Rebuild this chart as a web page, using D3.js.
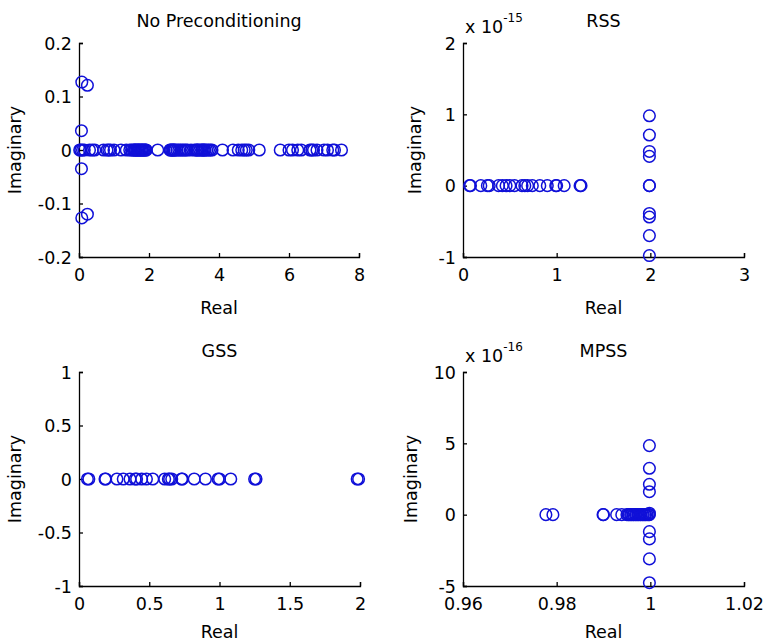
<!DOCTYPE html>
<html><head><meta charset="utf-8">
<script src="https://cdn.jsdelivr.net/npm/d3@7"></script>
<style>
html,body{margin:0;padding:0;background:#fff;}
svg text{font-family:"DejaVu Sans",sans-serif;fill:#000;}
</style></head>
<body><svg id="c" width="764" height="643"></svg>
<script>
// ---- Data ----
const titles = ["No Preconditioning", "RSS", "GSS", "MPSS"];

// No Preconditioning: eigenvalues (real, imaginary)
const noPrecRe = [0.08, 0.24, 0.08, 0.24, 0.07, 0.07,
  0.02, 0.05, 0.1, 0.15, 0.3, 0.38, 0.45, 0.7, 0.8, 0.85, 0.9, 1.0, 1.2, 1.35, 1.45, 1.5, 1.55,
  1.58, 1.6, 1.62, 1.65, 1.68, 1.7, 1.72, 1.75, 1.78, 1.8, 1.82, 1.85, 1.88, 1.9, 1.92,
  2.25, 2.6, 2.62, 2.65, 2.68, 2.7, 2.72, 2.75, 2.8, 2.85, 2.9, 2.95, 3.0, 3.05, 3.1, 3.2,
  3.3, 3.35, 3.38, 3.4, 3.45, 3.5, 3.52, 3.55, 3.58, 3.6, 3.65, 3.7, 3.75, 3.8,
  4.1, 4.4, 4.55, 4.65, 4.72, 4.78, 4.85, 5.15, 5.75, 6.0, 6.1, 6.25,
  6.35, 6.6, 6.65, 6.7, 6.8, 7.0, 7.1, 7.25, 7.3, 7.5];
const noPrecIm = [0.127, 0.121, -0.127, -0.120, 0.036, -0.035,
  0, 0, 0, 0, 0, 0, 0, 0, 0, 0, 0, 0, 0, 0, 0, 0, 0,
  0, 0, 0, 0, 0, 0, 0, 0, 0, 0, 0, 0, 0, 0, 0,
  0, 0, 0, 0, 0, 0, 0, 0, 0, 0, 0, 0, 0, 0, 0, 0,
  0, 0, 0, 0, 0, 0, 0, 0, 0, 0, 0, 0, 0, 0,
  0, 0, 0, 0, 0, 0, 0, 0, 0, 0, 0, 0,
  0, 0, 0, 0, 0, 0, 0, 0, 0, 0];

// RSS
const rssRe = [0.07, 0.08, 0.19, 0.26, 0.28, 0.38, 0.42, 0.46, 0.5, 0.55, 0.63, 0.66, 0.69,
  0.74, 0.82, 0.9, 0.99, 1.0, 1.08, 1.25, 1.26,
  1.99, 1.99, 1.99, 1.99, 1.99, 1.99, 1.99, 1.99, 1.99, 1.99];
const rssIm = [0, 0, 0, 0, 0, 0, 0, 0, 0, 0, 0, 0, 0,
  0, 0, 0, 0, 0, 0, 0, 0,
  0.98e-15, 0.71e-15, 0.48e-15, 0.41e-15, 0, -0.39e-15, -0.44e-15, -0.70e-15, -0.98e-15, 0];

// GSS
const gssRe = [0.06, 0.07, 0.185, 0.19, 0.27, 0.315, 0.363, 0.4, 0.41, 0.446, 0.48, 0.525,
  0.61, 0.636, 0.645, 0.66, 0.73, 0.735, 0.82, 0.9, 0.99, 1.0, 1.08, 1.25, 1.26, 1.98, 1.99];
const gssIm = [0, 0, 0, 0, 0, 0, 0, 0, 0, 0, 0, 0,
  0, 0, 0, 0, 0, 0, 0, 0, 0, 0, 0, 0, 0, 0, 0];

// MPSS
const mpssRe = [0.9777, 0.9792, 0.9899, 0.9900, 0.9928, 0.9939, 0.9950, 0.9953, 0.9955, 0.9958,
  0.9960, 0.9963, 0.9965, 0.9968, 0.9970, 0.9973, 0.9975, 0.9978, 0.9980, 0.9983, 0.9985,
  0.9988, 0.9990, 0.9993, 0.9996, 0.9998,
  0.9998, 0.9998, 0.9998, 0.9998, 0.9998, 0.9998, 0.9998, 0.9998, 0.9998];
const mpssIm = [0, 0, 0, 0, 0, 0, 0, 0, 0, 0,
  0, 0, 0, 0, 0, 0, 0, 0, 0, 0, 0,
  0, 0, 0, 0, 0,
  4.84e-16, 3.25e-16, 2.13e-16, 1.61e-16, -1.19e-16, -1.70e-16, -3.10e-16, -4.77e-16, 0.1e-16];

// Axis domains and tick labels
const xDomains = [[0, 8], [0, 3], [0, 2], [0.96, 1.02]];
const yDomains = [[-0.2, 0.2], [-1e-15, 2e-15], [-1, 1], [-5e-16, 10e-16]];
const xTicks = [[0, 2, 4, 6, 8], [0, 1, 2, 3], [0, 0.5, 1, 1.5, 2], [0.96, 0.98, 1, 1.02]];
const xTickLabels = [["0", "2", "4", "6", "8"], ["0", "1", "2", "3"], ["0", "0.5", "1", "1.5", "2"], ["0.96", "0.98", "1", "1.02"]];
const yTicks = [[-0.2, -0.1, 0, 0.1, 0.2], [-1e-15, 0, 1e-15, 2e-15], [-1, -0.5, 0, 0.5, 1], [-5e-16, 0, 5e-16, 10e-16]];
const yTickLabels = [["-0.2", "-0.1", "0", "0.1", "0.2"], ["-1", "0", "1", "2"], ["-1", "-0.5", "0", "0.5", "1"], ["-5", "0", "5", "10"]];
const exponents = [null, "-15", null, "-16"];
const xLabel = "Real", yLabel = "Imaginary";

const seriesRe = [noPrecRe, rssRe, gssRe, mpssRe];
const seriesIm = [noPrecIm, rssIm, gssIm, mpssIm];

// ---- Layout ----
const boxes = [
  {x0: 79, x1: 359, y0: 43, y1: 257, ylx: 21, xlb: 314, tb: 27},
  {x0: 463, x1: 744, y0: 43, y1: 257, ylx: 421, xlb: 314, tb: 27},
  {x0: 79, x1: 360, y0: 372, y1: 586, ylx: 21, xlb: 638, tb: 357},
  {x0: 463, x1: 744, y0: 372, y1: 586, ylx: 417, xlb: 638, tb: 357}
];

const svg = d3.select("#c");
const FS = 17.5;
const blue = "#1010d8";

boxes.forEach((b, i) => {
  const x = d3.scaleLinear().domain(xDomains[i]).range([b.x0, b.x1]);
  const y = d3.scaleLinear().domain(yDomains[i]).range([b.y1, b.y0]);
  const g = svg.append("g");

  const xa = d3.axisBottom(x).tickValues(xTicks[i]).tickSize(-4)
    .tickFormat((d, k) => xTickLabels[i][k]).tickPadding(10);
  const gx = g.append("g").attr("transform", `translate(0,${b.y1})`).call(xa);
  gx.select(".domain").attr("stroke", "#000").attr("stroke-width", 1.3);
  gx.selectAll(".tick line").attr("stroke", "#000").attr("stroke-width", 1.3);
  gx.selectAll(".tick text").attr("font-size", FS).attr("font-family", "DejaVu Sans")
    .attr("y", 24).attr("dy", 0);

  const ya = d3.axisLeft(y).tickValues(yTicks[i]).tickSize(-4)
    .tickFormat((d, k) => yTickLabels[i][k]).tickPadding(7);
  const gy = g.append("g").attr("transform", `translate(${b.x0},0)`).call(ya);
  gy.select(".domain").attr("stroke", "#000").attr("stroke-width", 1.3);
  gy.selectAll(".tick line").attr("stroke", "#000").attr("stroke-width", 1.3);
  gy.selectAll(".tick text").attr("font-size", FS).attr("font-family", "DejaVu Sans")
    .attr("x", -7).attr("dy", "0.36em");

  g.append("text").attr("x", (b.x0 + b.x1) / 2).attr("y", b.tb)
    .attr("text-anchor", "middle").attr("font-size", FS).text(titles[i]);
  g.append("text").attr("x", (b.x0 + b.x1) / 2).attr("y", b.xlb)
    .attr("text-anchor", "middle").attr("font-size", FS).text(xLabel);
  g.append("text").attr("transform", `translate(${b.ylx},${(b.y0 + b.y1) / 2}) rotate(-90)`)
    .attr("text-anchor", "middle").attr("font-size", FS).text(yLabel);

  if (exponents[i]) {
    const t = g.append("text").attr("x", b.x0 + 2).attr("y", b.y0 - 10).attr("font-size", FS);
    t.append("tspan").text("x 10");
    t.append("tspan").attr("font-size", 12).attr("dy", -11).text(exponents[i]);
  }

  const pts = seriesRe[i].map((r, k) => ({re: r, im: seriesIm[i][k]}));
  g.append("g").selectAll("circle").data(pts).join("circle")
    .attr("cx", d => x(d.re)).attr("cy", d => y(d.im)).attr("r", 5.8)
    .attr("fill", "none").attr("stroke", blue).attr("stroke-width", 1.5);
});
</script></body></html>
